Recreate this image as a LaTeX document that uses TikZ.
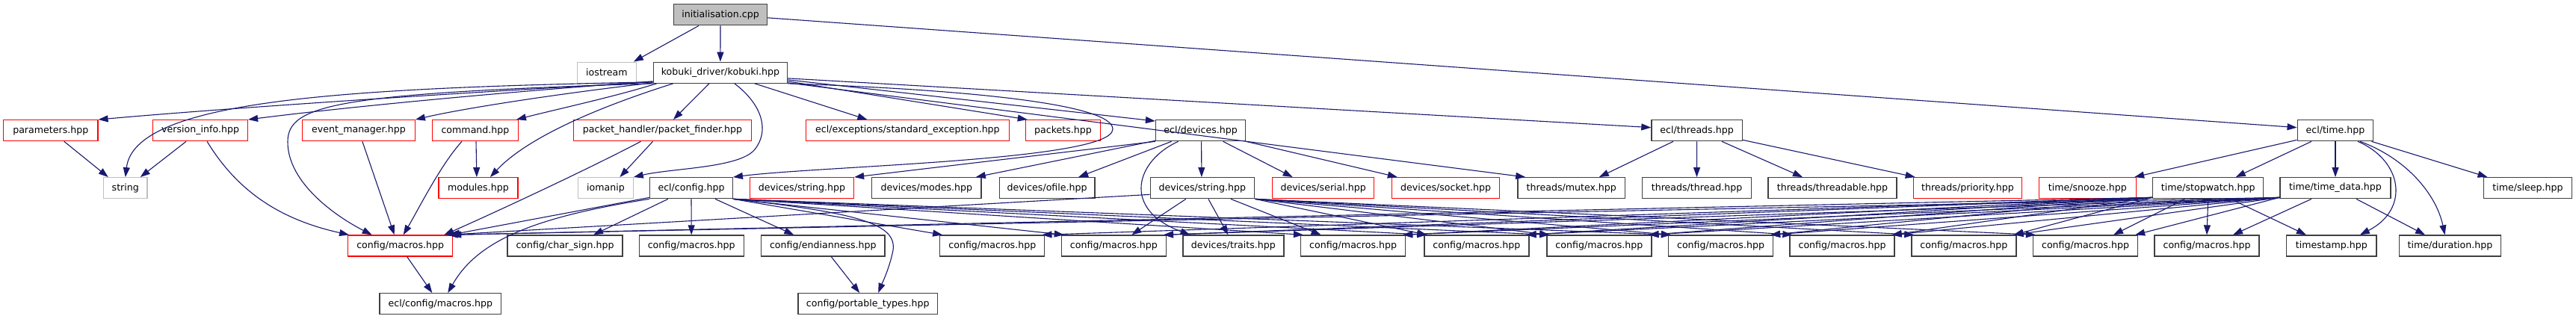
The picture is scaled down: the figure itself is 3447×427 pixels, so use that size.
\documentclass[tikz,border=0pt]{standalone}
\usepackage{fontspec}
\setmainfont{DejaVu Sans}
\usetikzlibrary{arrows.meta}
\definecolor{edgec}{HTML}{191970}
\definecolor{boxblk}{HTML}{404040}
\definecolor{boxred}{HTML}{FF0000}
\definecolor{boxgray}{HTML}{BFBFBF}
\begin{document}
\begin{tikzpicture}[x=1pt,y=-1pt,
  nd/.style={draw=boxblk, line width=1.3pt, minimum height=28pt, inner sep=0pt, font=\fontsize{12.6}{14}\selectfont, text=black},
  rd/.style={nd, draw=boxred},
  gr/.style={nd, draw=boxgray},
  conn/.style={draw=edgec, line width=1.1pt, -{Triangle[length=13pt,width=9pt]}},
]
\useasboundingbox[fill=white] (0,0) rectangle (3447,427);
% row 0
\node[nd, fill=boxgray, minimum width=124.4pt] (init) at (964,19.8) {initialisation.cpp};
% row 1
\node[gr, minimum width=78.8pt] (iostream) at (811.9,97.2) {iostream};
\node[nd, minimum width=179.1pt] (kobuki) at (963.9,97.2) {kobuki\_driver/kobuki.hpp};
% row 2
\node[rd, minimum width=126.3pt] (params) at (67.8,174.7) {parameters.hpp};
\node[rd, minimum width=126.7pt] (version) at (268.1,174.7) {version\_info.hpp};
\node[rd, minimum width=150.7pt] (evman) at (479.9,174.7) {event\_manager.hpp};
\node[rd, minimum width=114.7pt] (command) at (636,174.7) {command.hpp};
\node[rd, minimum width=238pt] (pfinder) at (886.5,174.7) {packet\_handler/packet\_finder.hpp};
\node[rd, minimum width=271.6pt] (stdexc) at (1214.4,174.7) {ecl/exceptions/standard\_exception.hpp};
\node[rd, minimum width=100.2pt] (packets) at (1422.5,174.7) {packets.hpp};
\node[nd, minimum width=120.1pt] (devices) at (1606.6,174.7) {ecl/devices.hpp};
\node[nd, minimum width=121.3pt] (threads) at (2270.6,174.7) {ecl/threads.hpp};
\node[nd, minimum width=101.6pt] (time) at (3125,174.7) {ecl/time.hpp};
% row 3
\node[gr, minimum width=58.6pt] (string) at (167.8,251.7) {string};
\node[rd, minimum width=106pt] (modules) at (639.9,251.7) {modules.hpp};
\node[gr, minimum width=73.5pt] (iomanip) at (810.4,251.7) {iomanip};
\node[nd, minimum width=110.6pt] (eclconfig) at (925,251.7) {ecl/config.hpp};
\node[rd, minimum width=138.9pt] (devstrR) at (1073,251.7) {devices/string.hpp};
\node[nd, minimum width=146.6pt] (modes) at (1239.8,251.7) {devices/modes.hpp};
\node[nd, minimum width=127.8pt] (ofile) at (1401.1,251.7) {devices/ofile.hpp};
\node[nd, minimum width=139.3pt] (devstrB) at (1608.9,251.7) {devices/string.hpp};
\node[rd, minimum width=136.1pt] (serial) at (1770.7,251.7) {devices/serial.hpp};
\node[rd, minimum width=144.2pt] (socket) at (1934.6,251.7) {devices/socket.hpp};
\node[nd, minimum width=143.9pt] (mutex) at (2102.8,251.7) {threads/mutex.hpp};
\node[nd, minimum width=145.6pt] (thread) at (2270.5,251.7) {threads/thread.hpp};
\node[nd, minimum width=172.2pt] (threadable) at (2452,251.7) {threads/threadable.hpp};
\node[rd, minimum width=145.4pt] (priority) at (2633,251.7) {threads/priority.hpp};
\node[rd, minimum width=130.1pt] (snooze) at (2793.4,251.7) {time/snooze.hpp};
\node[nd, minimum width=147.9pt] (stopwatch) at (2954.7,251.7) {time/stopwatch.hpp};
\node[nd, minimum width=147.9pt] (timedata) at (3125,251.7) {time/time\_data.hpp};
\node[nd, minimum width=117.5pt] (sleep) at (3382.5,251.7) {time/sleep.hpp};
% row 4
\node[rd, minimum width=139.9pt] (redcm) at (535.7,329) {config/macros.hpp};
\node[nd, minimum width=153.8pt] (charsign) at (756,329) {config/char\_sign.hpp};
\node[nd, minimum width=140pt] (M1) at (925.2,329) {config/macros.hpp};
\node[nd, minimum width=165.6pt] (endian) at (1101.3,329) {config/endianness.hpp};
\node[nd, minimum width=140pt] (M2) at (1327.8,329) {config/macros.hpp};
\node[nd, minimum width=140pt] (M3) at (1490.4,329) {config/macros.hpp};
\node[nd, minimum width=135.1pt] (traits) at (1650.4,329) {devices/traits.hpp};
\node[nd, minimum width=140pt] (M4) at (1810.6,329) {config/macros.hpp};
\node[nd, minimum width=140pt] (M5) at (1975.9,329) {config/macros.hpp};
\node[nd, minimum width=140pt] (M6) at (2139.9,329) {config/macros.hpp};
\node[nd, minimum width=140pt] (M7) at (2302.5,329) {config/macros.hpp};
\node[nd, minimum width=140pt] (M8) at (2465,329) {config/macros.hpp};
\node[nd, minimum width=140pt] (M9) at (2627.9,329) {config/macros.hpp};
\node[nd, minimum width=140pt] (M10) at (2790.5,329) {config/macros.hpp};
\node[nd, minimum width=140pt] (M11) at (2953,329) {config/macros.hpp};
\node[nd, minimum width=120.4pt] (timestamp) at (3119.9,329) {timestamp.hpp};
\node[nd, minimum width=136pt] (duration) at (3278.5,329) {time/duration.hpp};
% row 5
\node[nd, minimum width=162.9pt] (eclcm) at (589.3,406.7) {ecl/config/macros.hpp};
\node[nd, minimum width=186.6pt] (portable) at (1161.2,406.7) {config/portable\_types.hpp};

% initialisation.cpp
\draw[conn] (init.south) -- (kobuki.north);
\draw[conn] ([xshift=-29pt]init.south) -- ([xshift=36pt]iostream.north);
\draw[conn] ([yshift=-4pt]init.east) -- ([yshift=4pt]time.west);

% kobuki.hpp, leftwards
\draw[conn] ([yshift=2pt]kobuki.south west) .. controls (600,125) and (300,145) .. (params.north east);
\draw[conn] ([yshift=3pt]kobuki.south west) .. controls (650,125) and (450,145) .. (version.north east);
\draw[conn] ([yshift=1pt]kobuki.south west) .. controls (750,125) and (620,145) .. (evman.north east);
\draw[conn] ([xshift=5pt]kobuki.south west) .. controls (820,130) and (750,145) .. ([xshift=-3pt]command.north east);
\draw[conn] ([yshift=2pt]kobuki.south west) .. controls (450,118) and (180,135) .. (string.north);
\draw[conn] (kobuki.south west) .. controls (450,125) and (385,140) .. (385,190) .. controls (385,245) and (450,290) .. ([xshift=-38pt]redcm.north);
\draw[conn] ([xshift=27pt]kobuki.south west) .. controls (780,150) and (700,190) .. ([xshift=16pt]modules.north);
\draw[conn] ([xshift=-15pt]kobuki.south) -- ([xshift=14.5pt]pfinder.north);
\draw[conn] ([xshift=19pt]kobuki.south) .. controls (1020,140) and (1030,175) .. (1010,200) .. controls (990,225) and (900,225) .. (iomanip.north east);
% kobuki.hpp, rightwards
\draw[conn] (kobuki.south east) .. controls (1300,120) and (1490,140) .. (1489,173) .. controls (1488,215) and (1100,222) .. (eclconfig.north east);
\draw[conn] ([xshift=46pt]kobuki.south) -- ([xshift=-54pt]stdexc.north);
\draw[conn] ([yshift=3pt]kobuki.south east) -- ([xshift=3pt]packets.north west);
\draw[conn] ([yshift=5pt]kobuki.south east) -- ([yshift=-2pt]devices.north west);
\draw[conn] ([yshift=7pt]kobuki.south east) -- ([yshift=4pt]threads.west);
\draw[conn] ([yshift=1pt]kobuki.south east) -- ([xshift=11pt]mutex.north west);

% left side
\draw[conn] ([xshift=18pt]params.south) -- ([xshift=-23pt]string.north);
\draw[conn] ([xshift=-19pt]version.south) -- ([xshift=20pt]string.north);
\draw[conn] ([xshift=9pt]version.south) .. controls (320,260) and (380,295) .. ([xshift=2pt]redcm.north west);
\draw[conn] ([xshift=5pt]evman.south) -- ([xshift=-8pt]redcm.north);
\draw[conn] ([xshift=-18pt]command.south) .. controls (590,220) and (560,280) .. ([xshift=4pt]redcm.north);
\draw[conn] ([xshift=1pt]command.south) -- ([xshift=-2pt]modules.north);
\draw[conn] ([xshift=-13pt]pfinder.south) -- ([xshift=19pt]iomanip.north);
\draw[conn] ([xshift=-29pt]pfinder.south) .. controls (780,230) and (650,290) .. ([xshift=-12pt]redcm.north east);

% ecl/config.hpp
\draw[conn] ([yshift=2pt]eclconfig.south west) -- ([xshift=-4pt]redcm.north east);
\draw[conn] (eclconfig.south west) .. controls (720,290) and (640,320) .. ([xshift=10pt]eclcm.north);
\draw[conn] ([xshift=-31pt]eclconfig.south) -- ([xshift=38pt]charsign.north);
\draw[conn] (eclconfig.south) -- (M1.north);
\draw[conn] ([xshift=32pt]eclconfig.south) -- ([xshift=-39pt]endian.north);
\draw[conn] (eclconfig.south east) .. controls (1150,285) and (1200,300) .. (1195,335) .. controls (1190,360) and (1180,380) .. ([xshift=14pt]portable.north);
\foreach \tg in {M2,M3,M4,M5,M6,M7} \draw[conn] (eclconfig.south east) -- ([xshift=4pt]\tg.north west);
\draw[conn] ([xshift=11pt]endian.south) -- ([xshift=-11pt]portable.north);
\draw[conn] ([xshift=9pt]redcm.south) -- ([xshift=-11pt]eclcm.north);

% ecl/devices.hpp
\draw[conn] (devices.south west) -- (devstrR.north east);
\draw[conn] ([yshift=1pt]devices.south west) -- ([xshift=-8pt]modes.north east);
\draw[conn] ([xshift=-39pt]devices.south) -- ([xshift=42pt]ofile.north);
\draw[conn] ([xshift=1pt]devices.south) -- ([xshift=-1pt]devstrB.north);
\draw[conn] ([xshift=-30pt]devices.south) .. controls (1520,215) and (1500,280) .. ([xshift=-58pt]traits.north);
\draw[conn] ([xshift=30pt]devices.south) -- ([xshift=-41pt]serial.north);
\draw[conn] (devices.south east) -- ([xshift=8pt]socket.north west);

% devices/string.hpp
\draw[conn] ([yshift=6pt]devstrB.south west) -- ([xshift=-8pt]redcm.north east);
\draw[conn] ([xshift=-22pt]devstrB.south) -- ([xshift=24pt]M3.north);
\draw[conn] ([xshift=8pt]devstrB.south) -- ([xshift=-7pt]traits.north);
\draw[conn] ([xshift=38pt]devstrB.south) -- ([xshift=-43pt]M4.north);
\foreach \tg in {M5,M6,M7,M8,M9,M10} \draw[conn] (devstrB.south east) -- ([xshift=4pt]\tg.north west);

% ecl/threads.hpp
\draw[conn] ([xshift=-31.6pt]threads.south) -- ([xshift=37pt]mutex.north);
\draw[conn] (threads.south) -- (thread.north);
\draw[conn] ([xshift=33.4pt]threads.south) -- ([xshift=-40pt]threadable.north);
\draw[conn] ([yshift=2pt]threads.south east) -- ([xshift=3pt]priority.north west);

% ecl/time.hpp
\draw[conn] ([yshift=2pt]time.south west) -- ([xshift=-3pt]snooze.north east);
\draw[conn] ([xshift=-32pt]time.south) -- ([xshift=37pt]stopwatch.north);
\draw[conn] (time.south) -- (timedata.north);
\draw[conn] ([xshift=30pt]time.south) .. controls (3215,215) and (3225,280) .. ([xshift=38pt]timestamp.north);
\draw[conn] ([xshift=33pt]time.south) .. controls (3220,212) and (3260,260) .. ([xshift=-7pt]duration.north);
\draw[conn] ([xshift=-3pt]time.south east) -- ([xshift=-54pt]sleep.north);

% time/stopwatch.hpp
\draw[conn] (stopwatch.south) -- (M11.north);
\draw[conn] ([xshift=30pt]stopwatch.south) -- ([xshift=-34pt]timestamp.north);
\draw[conn] ([xshift=-31pt]stopwatch.south) -- ([xshift=37.5pt]M10.north);
\foreach \tg in {M2,M3,M4,M5,M6,M7,M8,M9} \draw[conn] ([yshift=2pt]stopwatch.south west) -- ([xshift=-4pt]\tg.north east);
\draw[conn] ([yshift=2pt]stopwatch.south west) -- ([xshift=-2pt]redcm.north east);

% time/time_data.hpp
\draw[conn] ([xshift=-32pt]timedata.south) -- ([xshift=35pt]M11.north);
\draw[conn] ([xshift=28pt]timedata.south) -- ([xshift=-33.5pt]duration.north);
\foreach \tg in {M3,M4,M5,M6,M7,M8,M9,M10} \draw[conn] ([yshift=2pt]timedata.south west) -- ([xshift=-4pt]\tg.north east);
\draw[conn] ([yshift=2pt]timedata.south west) -- ([xshift=-6pt]redcm.north east);
\end{tikzpicture}
\end{document}
